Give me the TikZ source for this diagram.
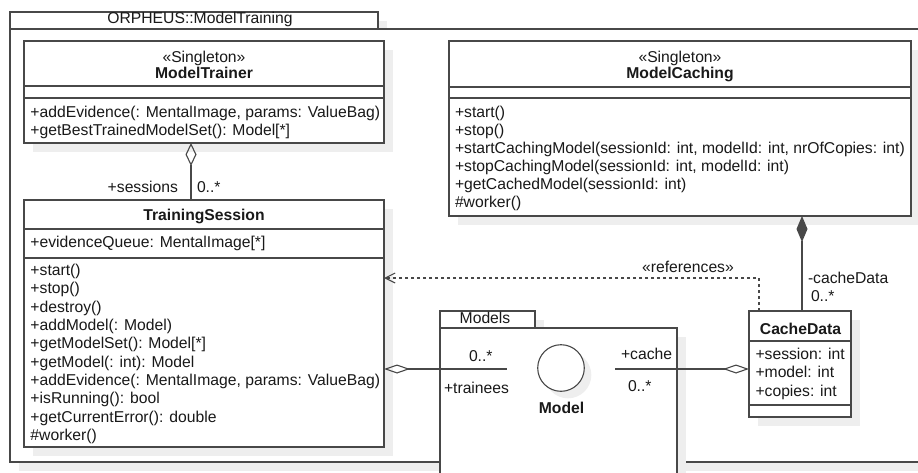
\documentclass[tikz,border=0pt]{standalone}
\usepackage{fontspec}
\setmainfont{Liberation Sans}
\usetikzlibrary{arrows.meta,shadows}
\definecolor{lc}{RGB}{72,72,72}
\definecolor{tc}{RGB}{25,25,25}
\definecolor{shc}{RGB}{238,238,238}
\tikzset{
  umlbox/.style={draw=lc, fill=white, line width=1.1pt, inner sep=0pt, outer sep=0pt,
    anchor=north west, rectangle,
    general shadow={fill=shc, shadow xshift=9pt, shadow yshift=-9pt}},
  txt/.style={inner sep=0pt, outer sep=0pt, text=tc, font=\fontsize{15.7}{18}\selectfont},
  bold/.style={txt, font=\fontsize{15.7}{18}\selectfont\bfseries},
  divider/.style={draw=lc, line width=1.1pt},
  conn/.style={draw=lc, line width=1.1pt},
  depline/.style={conn, dash pattern=on 3pt off 3pt},
}
\begin{document}
\begin{tikzpicture}[x=1pt,y=-1pt]
\useasboundingbox (0,0) rectangle (918,472);
\fill[white] (0,0) rectangle (918,472);
\begin{scope}
\clip (0,0) rectangle (918,472);
% outer package
\node[umlbox, minimum width=368pt, minimum height=17pt] (otab) at (10,12) {};
\node[umlbox, minimum width=930pt, minimum height=433pt] (obody) at (10,29) {};
\node[txt, anchor=base] (otitle) at (200,23) {ORPHEUS::ModelTraining};

% ModelTrainer
\node[umlbox, minimum width=360pt, minimum height=102pt] (mt) at (24,41) {};
\node[txt, anchor=base] (mtst) at (204,62.5) {«Singleton»};
\node[bold, anchor=base] (mtname) at (204,78.5) {ModelTrainer};
\draw[divider] (24,86) -- (384,86);
\draw[divider] (24,98) -- (384,98);
\node[txt, anchor=base west] (mtm1) at (30.5,117) {+addEvidence(: MentalImage, params: ValueBag)};
\node[txt, anchor=base west] (mtm2) at (30.5,135) {+getBestTrainedModelSet(): Model[*]};

% ModelCaching
\node[umlbox, minimum width=462pt, minimum height=175pt] (mc) at (449,41) {};
\node[txt, anchor=base] (mcst) at (680,62.5) {«Singleton»};
\node[bold, anchor=base] (mcname) at (680,78.5) {ModelCaching};
\draw[divider] (449,87) -- (911,87);
\draw[divider] (449,98) -- (911,98);
\foreach \t [count=\i from 0] in {{+start()},{+stop()},
  {+startCachingModel(sessionId: int, modelId: int, nrOfCopies: int)},
  {+stopCachingModel(sessionId: int, modelId: int)},
  {+getCachedModel(sessionId: int)},{\#worker()}}
  \node[txt, anchor=base west] (mcm\i) at (455,117+18.14*\i) {\t};

% TrainingSession
\node[umlbox, minimum width=360pt, minimum height=247pt] (ts) at (24,200) {};
\node[bold, anchor=base] (tsname) at (204,220.5) {TrainingSession};
\draw[divider] (24,229) -- (384,229);
\node[txt, anchor=base west] (tsa1) at (30.5,247.3) {+evidenceQueue: MentalImage[*]};
\draw[divider] (24,258) -- (384,258);
\foreach \t [count=\i from 0] in {{+start()},{+stop()},{+destroy()},{+addModel(: Model)},
  {+getModelSet(): Model[*]},{+getModel(: int): Model},
  {+addEvidence(: MentalImage, params: ValueBag)},{+isRunning(): bool},
  {+getCurrentError(): double},{\#worker()}}
  \node[txt, anchor=base west] (tsm\i) at (30.5,275.4+18.33*\i) {\t};

% CacheData
\node[umlbox, minimum width=102pt, minimum height=106pt] (cd) at (749,311) {};
\node[bold, anchor=base] (cdname) at (800.5,334) {CacheData};
\draw[divider] (749,341) -- (851,341);
\node[txt, anchor=base west] (cda1) at (755.5,359.7) {+session: int};
\node[txt, anchor=base west] (cda2) at (755.5,377.7) {+model: int};
\node[txt, anchor=base west] (cda3) at (755.5,396) {+copies: int};
\draw[divider] (749,405) -- (851,405);

% Models package
\node[umlbox, minimum width=95pt, minimum height=17pt] (mtab) at (440,311) {};
\node[umlbox, minimum width=237pt, minimum height=170pt] (mbody) at (440,328) {};
\node[txt, anchor=base] (mtitle) at (485,323.3) {Models};
\node[circle, draw=lc, fill=white, line width=1.1pt, minimum size=46.6pt, inner sep=0pt, outer sep=0pt,
  general shadow={fill=shc, shadow xshift=7pt, shadow yshift=-7pt}] (model) at (561,368) {};
\node[bold, anchor=base] (modelname) at (561.5,413.3) {Model};
\coordinate (mlend) at ([xshift=-30.7pt,yshift=-1pt]model.west);
\coordinate (mrend) at ([xshift=30.7pt,yshift=-1pt]model.east);

% connectors
\draw[conn, {Diamond[open,length=23pt,width=11pt]}-] ([xshift=-13pt]mt.south) -- ([xshift=-13pt]ts.north);
\node[txt, anchor=base east] (lsess) at (178,192) {+sessions};
\node[txt, anchor=base west] (lsessm) at (197,192) {0..*};

\coordinate (cdtop) at ([xshift=2pt]cd.north);
\draw[conn, {Diamond[length=26pt,width=11pt]}-] (mc.south -| cdtop) -- (cdtop);
\node[txt, anchor=base west] (lcd) at (808,283.5) {-cacheData};
\node[txt, anchor=base west] (lcdm) at (811,301.7) {0..*};

\draw[depline, -{Straight Barb[length=10pt,width=10pt]}] ([xshift=-41pt]cd.north) |- ([yshift=45.5pt]ts.east);
\node[txt, anchor=base] (lref) at (688,272.5) {«references»};

\draw[conn, {Diamond[open,length=26pt,width=9pt]}-] ([yshift=-45.5pt]ts.east) -- (mlend);
\node[txt, anchor=base west] (ltrm) at (469,361.7) {0..*};
\node[txt, anchor=base west] (ltr) at (444,393.3) {+trainees};

\draw[conn, -{Diamond[open,length=26pt,width=9pt]}] (mrend) -- (cd.west |- mrend);
\node[txt, anchor=base west] (lca) at (621,359.3) {+cache};
\node[txt, anchor=base west] (lcam) at (628,391.7) {0..*};
\end{scope}
\end{tikzpicture}
\end{document}
